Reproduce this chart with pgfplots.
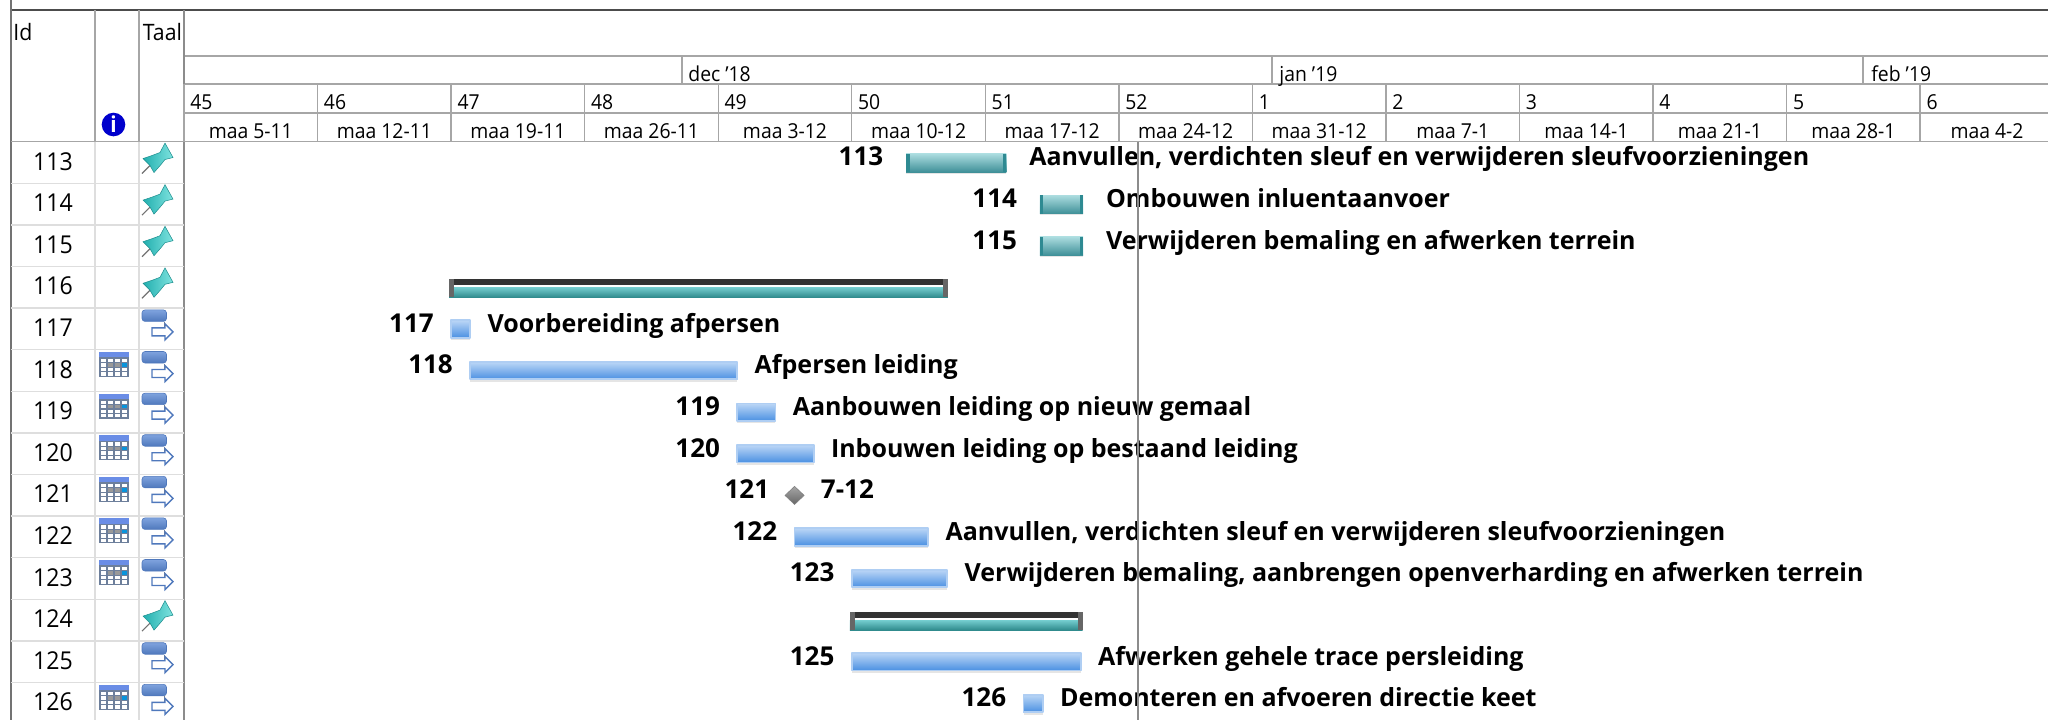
\documentclass[border=0pt]{standalone}
\usepackage{pgfplots}
\pgfplotsset{compat=1.18}
\usepackage{fontspec}
\setmainfont[FakeStretch=0.94]{Open Sans}
\newfontfamily\namefam{Open Sans}
\definecolor{hdr}{HTML}{A6A6A6}
\definecolor{lite}{HTML}{DEDEDE}
\definecolor{bluetop}{HTML}{BBD6F6}
\definecolor{bluebot}{HTML}{4A90E2}
\definecolor{blueedge}{HTML}{AFCEF3}
\definecolor{tealtop}{HTML}{ABDCDF}
\definecolor{tealbot}{HTML}{3F9098}
\definecolor{tealcap}{HTML}{2E8A92}
\definecolor{sumtop}{HTML}{74CDCF}
\definecolor{sumbot}{HTML}{2F8A8C}
\definecolor{pinA}{HTML}{22AFAF}
\definecolor{pinB}{HTML}{7FE3DF}
\definecolor{flowA}{HTML}{7FA3DE}
\definecolor{flowB}{HTML}{4F78BC}
\definecolor{calB}{HTML}{6D7F9B}
\definecolor{calT}{HTML}{6A8DE6}
\newcommand\fH{\fontsize{10.3pt}{12pt}\selectfont}
\newcommand\fT{\fontsize{11.3pt}{13pt}\selectfont}
\newcommand\fR{\fontsize{12.3pt}{14pt}\selectfont}
\newcommand\fB{\namefam\fontsize{13pt}{14pt}\selectfont\bfseries}
\newcommand\fN{\namefam\fontsize{12.5pt}{14pt}\selectfont\bfseries}
\tikzset{
 pin/.pic={\begin{scope}[xscale=.5,yscale=-.5]
  \draw[black!55,line width=.6pt] (-16pt,11pt)--(-8pt,3pt);
  \path[left color=pinA,right color=pinB,draw=pinA!80!black,line width=.25pt]
   (-15pt,-4pt)--(-6pt,-7pt)--(2pt,-10pt)--(7pt,-19.4pt)--(15pt,-5pt)--(7pt,-3pt)--(3pt,2pt)--(-4pt,10pt)--(-8pt,3pt)--cycle;
 \end{scope}},
 flow/.pic={\begin{scope}[xscale=.5,yscale=-.5]
  \draw[black!50,line width=.5pt] (6pt,-7pt)--(6pt,3pt)--(0pt,3pt);
  \path[draw=flowB,top color=flowA,bottom color=flowB,line width=.3pt,rounded corners=1.5pt]
   (-16pt,-19pt) rectangle (8.5pt,-7.5pt);
  \path[fill=white,draw=flowB,line width=.7pt]
   (-6pt,-1pt)--(7pt,-1pt)--(7pt,-5pt)--(15pt,3pt)--(7pt,11pt)--(7pt,7pt)--(-6pt,7pt)--cycle;
 \end{scope}},
 cal/.pic={\begin{scope}[xscale=.5,yscale=-.5]
  \fill[calB] (-15pt,-12.5pt) rectangle (15pt,12.5pt);
  \fill[calT] (-15pt,-12.5pt) rectangle (15pt,-7pt);
  \foreach \i in {0,...,3} \foreach \j in {0,...,3} {
    \fill[white] ({-13.5pt+\i*7pt},{-5.5pt+\j*4.5pt}) rectangle ++(5.5pt,3.4pt);}
  \fill[black!40] (-6.5pt,-1pt) rectangle ++(5.5pt,3.4pt);
  \fill[black!40] (0.5pt,-1pt) rectangle ++(5.5pt,3.4pt);
  \fill[cyan!80!blue] (7.5pt,-1pt) rectangle ++(5.5pt,3.4pt);
 \end{scope}},
}
\newcommand\hl[4]{\draw[#4,line width=.7pt] (axis cs:#2,#1)--(axis cs:#3,#1);}
\newcommand\vl[4]{\draw[#4,line width=.7pt] (axis cs:#1,#2)--(axis cs:#1,#3);}
\newcommand\wk[3]{%
 \node[anchor=base west,inner sep=0pt,font=\fH] at (axis cs:{184+133.55*#1+6},109) {#2};
 \node[anchor=base,inner sep=0pt,font=\fH] at (axis cs:{184+133.55*#1+66.8},138.3) {#3};
 \vl{{184+133.55*#1}}{84}{141.7}{hdr}}
\newcommand\rowcell[1]{%
 \node[anchor=base,inner sep=0pt,font=\fR] at (axis cs:53,{141.7+41.6*(#1-113)+28.3}) {#1};
 \hl{{141.7+41.6*(#1-113+1)}}{11}{184}{lite}}
\newcommand\ipin[1]{\path (axis cs:158,{141.7+41.6*(#1-113)+20.8}) pic {pin};}
\newcommand\iflow[1]{\path (axis cs:158,{141.7+41.6*(#1-113)+20.8}) pic {flow};}
\newcommand\ical[1]{\path (axis cs:114.3,{141.7+41.6*(#1-113)+14.7}) pic {cal};}
% labels: gap (pt), id, start day, end day, name
\newcommand\labels[5]{%
 \node[anchor=base east,inner sep=0pt,font=\fB] at ([xshift=-#1]axis cs:#3,{#2+.08}) {#2};
 \node[anchor=base west,inner sep=0pt,font=\fN] at ([xshift=#1]axis cs:#4,{#2+.08}) {#5};}
\newcommand\bluebar[4]{%
 \pgfmathsetmacro\ya{#1-.21}\pgfmathsetmacro\yb{#1+.21}\pgfmathsetmacro\yc{#1+.25}%
 \addplot[black!10,line width=.8pt] coordinates {(#2,\yc)(#3,\yc)};
 \addplot[draw=blueedge,line width=.9pt,line join=round,top color=bluetop,bottom color=bluebot]
  coordinates {(#2,\ya)(#3,\ya)(#3,\yb)(#2,\yb)} -- cycle;
 \labels{8.5pt}{#1}{#2}{#3}{#4}}
\newcommand\tealbar[4]{%
 \pgfmathsetmacro\ya{#1-.215}\pgfmathsetmacro\yb{#1+.225}\pgfmathsetmacro\yc{#1+.25}%
 \pgfmathsetmacro\xa{#2+.18}\pgfmathsetmacro\xb{#3-.18}%
 \addplot[black!10,line width=.8pt] coordinates {(#2,\yc)(#3,\yc)};
 \addplot[draw=none,top color=tealtop,bottom color=tealbot]
  coordinates {(#2,\ya)(#3,\ya)(#3,\yb)(#2,\yb)} -- cycle;
 \addplot[draw=none,fill=tealcap] coordinates {(#2,\ya)(\xa,\ya)(\xa,\yb)(#2,\yb)} -- cycle;
 \addplot[draw=none,fill=tealcap] coordinates {(\xb,\ya)(#3,\ya)(#3,\yb)(\xb,\yb)} -- cycle;
 \labels{11.3pt}{#1}{#2}{#3}{#4}}
\newcommand\summary[3]{%
 \pgfmathsetmacro\ya{#1-.195}\pgfmathsetmacro\yb{#1-.05}\pgfmathsetmacro\yc{#1-.002}\pgfmathsetmacro\yd{#1+.238}%
 \pgfmathsetmacro\xa{#2+.26}\pgfmathsetmacro\xb{#3-.26}%
 \addplot[draw=none,fill=black!80] coordinates {(#2,\ya)(#3,\ya)(#3,\yb)(#2,\yb)} -- cycle;
 \addplot[draw=none,top color=sumtop,bottom color=sumbot] coordinates {(#2,\yc)(#3,\yc)(#3,\yd)(#2,\yd)} -- cycle;
 \addplot[draw=none,fill=black!60] coordinates {(#2,\ya)(\xa,\ya)(\xa,\yd)(#2,\yd)} -- cycle;
 \addplot[draw=none,fill=black!60] coordinates {(\xb,\ya)(#3,\ya)(#3,\yd)(\xb,\yd)} -- cycle;}
\begin{document}
\begin{tikzpicture}
\useasboundingbox (0,0) rectangle (1024pt,360pt);
\begin{axis}[at={(0pt,0pt)},anchor=south west,scale only axis,width=1024pt,height=360pt,hide axis,
 xmin=0,xmax=2048,ymin=0,ymax=720,y dir=reverse,clip=false]
 % frame
 \draw[black!70,line width=1pt] (axis cs:10.7,10)--(axis cs:2048,10);
 \draw[black!55,line width=1pt] (axis cs:10.7,0)--(axis cs:10.7,720);
 % header
 \hl{56}{184}{2048}{hdr}
 \hl{84}{184}{2048}{hdr}
 \hl{113}{184}{2048}{hdr}
 \hl{141.7}{11}{2048}{hdr}
 \vl{95}{10}{141.7}{hdr}
 \vl{139}{10}{141.7}{hdr}
 \vl{184}{10}{720}{black!45}
 \vl{95}{141.7}{720}{lite}
 \vl{139}{141.7}{720}{lite}
 \vl{682}{56}{84}{hdr}
 \vl{1272}{56}{84}{hdr}
 \vl{1863}{56}{84}{hdr}
 \node[anchor=base west,inner sep=0pt,font=\fT] at (axis cs:13,40.8) {Id};
 \node[anchor=base west,inner sep=0pt,font=\fT] at (axis cs:142.5,40.8) {Taal};
 \node[anchor=base west,inner sep=0pt,font=\fH] at (axis cs:688,81.7) {dec '18};
 \node[anchor=base west,inner sep=0pt,font=\fH] at (axis cs:1279,81.7) {jan '19};
 \node[anchor=base west,inner sep=0pt,font=\fH] at (axis cs:1871,81.7) {feb '19};
 \wk{0}{45}{maa 5-11}\wk{1}{46}{maa 12-11}\wk{2}{47}{maa 19-11}\wk{3}{48}{maa 26-11}
 \wk{4}{49}{maa 3-12}\wk{5}{50}{maa 10-12}\wk{6}{51}{maa 17-12}\wk{7}{52}{maa 24-12}
 \wk{8}{1}{maa 31-12}\wk{9}{2}{maa 7-1}\wk{10}{3}{maa 14-1}\wk{11}{4}{maa 21-1}
 \wk{12}{5}{maa 28-1}\wk{13}{6}{maa 4-2}
 % info icon
 \fill[blue!80!black] (axis cs:113.5,124.5) circle[radius=5.9pt];
 \node[text=white,inner sep=0pt,font=\fontsize{11pt}{11pt}\selectfont\bfseries] at (axis cs:113.5,124.5) {i};
 % rows
 \rowcell{113}\rowcell{114}\rowcell{115}\rowcell{116}\rowcell{117}\rowcell{118}\rowcell{119}
 \rowcell{120}\rowcell{121}\rowcell{122}\rowcell{123}\rowcell{124}\rowcell{125}\rowcell{126}
 \ipin{113}\ipin{114}\ipin{115}\ipin{116}\ipin{124}
 \iflow{117}\iflow{118}\iflow{119}\iflow{120}\iflow{121}\iflow{122}\iflow{123}\iflow{125}\iflow{126}
 \ical{118}\ical{119}\ical{120}\ical{121}\ical{122}\ical{123}\ical{126}
\end{axis}
\begin{axis}[at={(0pt,0pt)},anchor=south west,scale only axis,width=1024pt,height=360pt,hide axis,
 xmin=-9.644,xmax=97.69,ymin=109.09,ymax=126.4,y dir=reverse,clip=false]
 \tealbar{113}{37.85}{43.1}{Aanvullen, verdichten sleuf en verwijderen sleufvoorzieningen}
 \tealbar{114}{44.86}{47.12}{Ombouwen inluentaanvoer}
 \tealbar{115}{44.86}{47.12}{Verwijderen bemaling en afwerken terrein}
 \summary{116}{13.89}{40.04}
 \bluebar{117}{14}{15}{Voorbereiding afpersen}
 \bluebar{118}{15}{29}{Afpersen leiding}
 \bluebar{119}{29}{31}{Aanbouwen leiding op nieuw gemaal}
 \bluebar{120}{29}{33}{Inbouwen leiding op bestaand leiding}
 \addplot[draw=black!50,top color=black!35,bottom color=black!60,line width=.3pt]
   coordinates {(31.5,121)(32,120.783)(32.5,121)(32,121.217)} -- cycle;
 \node[anchor=base east,inner sep=0pt,font=\fB] at ([xshift=-12.5pt]axis cs:32,{121+.08}) {121};
 \node[anchor=base west,inner sep=0pt,font=\fB] at ([xshift=13pt]axis cs:32,{121+.08}) {7-12};
 \bluebar{122}{32}{39}{Aanvullen, verdichten sleuf en verwijderen sleufvoorzieningen}
 \bluebar{123}{35}{40}{Verwijderen bemaling, aanbrengen openverharding en afwerken terrein}
 \summary{124}{34.9}{47.1}
 \bluebar{125}{35}{47}{Afwerken gehele trace persleiding}
 \bluebar{126}{44}{45}{Demonteren en afvoeren directie keet}
 % today line
 \addplot[black!45,line width=1.2pt] coordinates {(50,112.5)(50,126.4)};
\end{axis}
\end{tikzpicture}
\end{document}
